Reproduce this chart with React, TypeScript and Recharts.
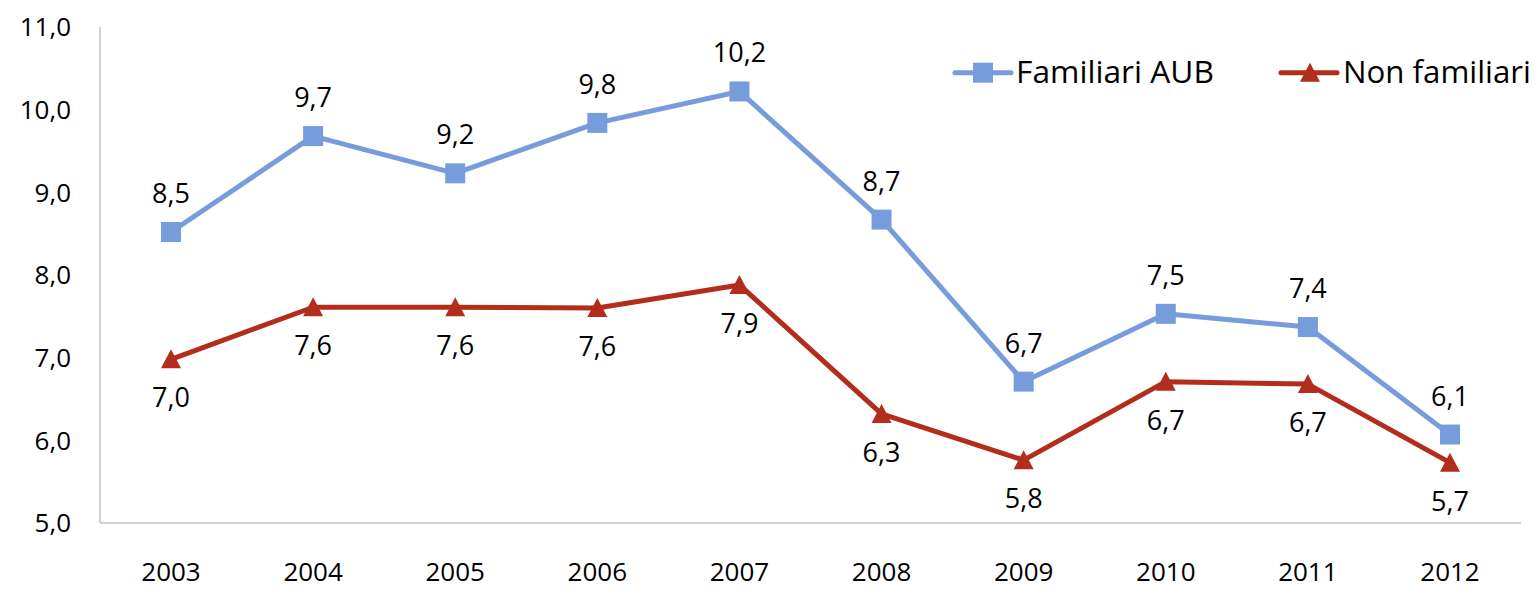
import React from 'react'
import { LineChart, Line, XAxis, YAxis, LabelList, Legend } from 'recharts'

const years = ['2003', '2004', '2005', '2006', '2007', '2008', '2009', '2010', '2011', '2012']
const familiari = [8.52, 9.68, 9.23, 9.84, 10.22, 8.67, 6.71, 7.53, 7.37, 6.07]
const nonFamiliari = [6.98, 7.61, 7.61, 7.6, 7.88, 6.32, 5.76, 6.71, 6.68, 5.73]
const yTicks = [5, 6, 7, 8, 9, 10, 11]

const BLUE = '#779CDB'
const RED = '#B22D1B'
const FONT = '"Open Sans", sans-serif'

const data = years.map((year, i) => ({
  year,
  familiari: familiari[i],
  nonFamiliari: nonFamiliari[i],
}))

const fmt = (v: number) => v.toFixed(1).replace('.', ',')

function SquareDot(props: any) {
  const { cx, cy, index } = props
  if (cx == null || cy == null) return null
  return <rect key={`sq-${index}`} x={cx - 10} y={cy - 10} width={20} height={20} fill={BLUE} />
}

function TriangleDot(props: any) {
  const { cx, cy, index } = props
  if (cx == null || cy == null) return null
  return (
    <polygon
      key={`tr-${index}`}
      points={`${cx},${cy - 10} ${cx - 10},${cy + 9} ${cx + 10},${cy + 9}`}
      fill={RED}
    />
  )
}

function ChartLegend() {
  return (
    <svg width={1530} height={100} style={{ display: 'block' }}>
      {/* Familiari AUB */}
      <line x1={947} y1={64.7} x2={1003} y2={64.7} stroke={BLUE} strokeWidth={5} strokeLinecap="round" />
      <rect x={965} y={54.7} width={20} height={20} fill={BLUE} />
      <text x={1008} y={75} fontSize={31} fontFamily={FONT} fill="#000" textLength={198} lengthAdjust="spacingAndGlyphs">
        Familiari AUB
      </text>
      {/* Non familiari */}
      <line x1={1273} y1={64.7} x2={1329} y2={64.7} stroke={RED} strokeWidth={5} strokeLinecap="round" />
      <polygon points="1302,54.7 1292,73.7 1312,73.7" fill={RED} />
      <text x={1335} y={75} fontSize={31} fontFamily={FONT} fill="#000" textLength={188} lengthAdjust="spacingAndGlyphs">
        Non familiari
      </text>
    </svg>
  )
}

export default function App() {
  const tickStyle = { fontSize: 26, fill: '#000', fontFamily: FONT }
  return (
    <div style={{ width: 1530, height: 582, background: '#fff' }}>
      <LineChart
        width={1530}
        height={582}
        data={data}
        margin={{ top: 19, right: 17, left: 0, bottom: 0 }}
      >
        <XAxis
          dataKey="year"
          height={67}
          padding={{ left: 71, right: 71 }}
          tickLine={false}
          tickSize={0}
          tickMargin={40}
          stroke="#a6a6a6"
          tick={tickStyle}
          interval={0}
        />
        <YAxis
          width={92}
          domain={[5, 11]}
          ticks={yTicks}
          tickFormatter={fmt}
          tickLine={false}
          tickSize={0}
          tickMargin={29}
          stroke="#a6a6a6"
          tick={tickStyle}
        />
        <Legend
          layout="horizontal"
          verticalAlign="middle"
          align="center"
          wrapperStyle={{ left: 0, top: 0, width: 1530, height: 100 }}
          content={() => <ChartLegend />}
        />
        <Line
          dataKey="familiari"
          stroke={BLUE}
          strokeWidth={5}
          strokeLinejoin="round"
          dot={SquareDot}
          activeDot={false}
          isAnimationActive={false}
        >
          <LabelList
            dataKey="familiari"
            position="top"
            offset={29}
            formatter={(v: any) => fmt(Number(v))}
            style={{ fontSize: 27, fill: '#000', fontFamily: FONT }}
          />
        </Line>
        <Line
          dataKey="nonFamiliari"
          stroke={RED}
          strokeWidth={5}
          strokeLinejoin="round"
          dot={TriangleDot}
          activeDot={false}
          isAnimationActive={false}
        >
          <LabelList
            dataKey="nonFamiliari"
            position="bottom"
            offset={29}
            formatter={(v: any) => fmt(Number(v))}
            style={{ fontSize: 27, fill: '#000', fontFamily: FONT }}
          />
        </Line>
      </LineChart>
    </div>
  )
}
